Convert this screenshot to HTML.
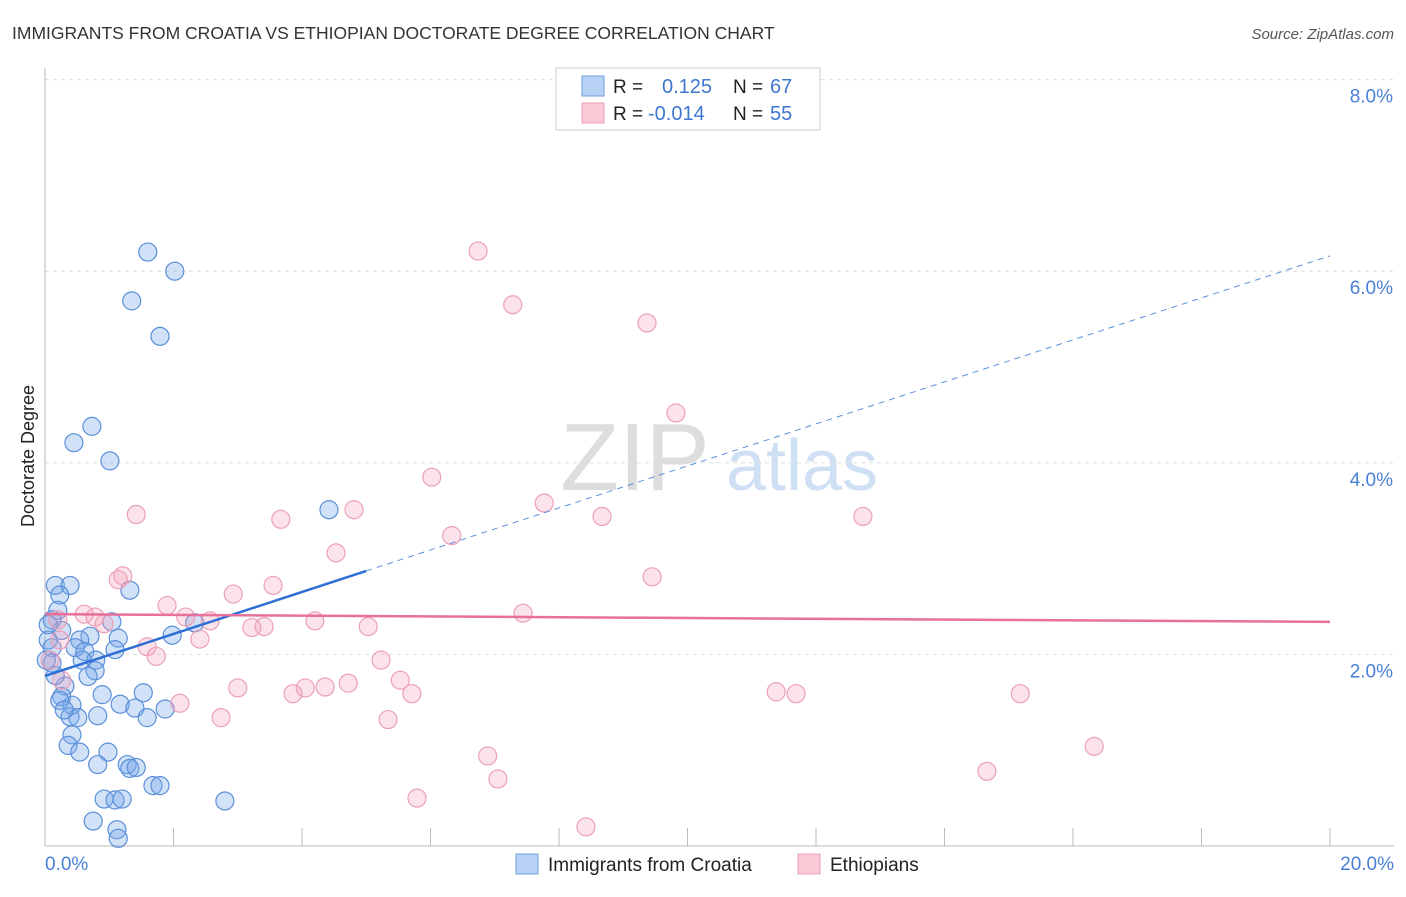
<!DOCTYPE html>
<html><head><meta charset="utf-8"><style>
body{margin:0;background:#fff;font-family:"Liberation Sans",sans-serif;}
svg text{font-family:"Liberation Sans",sans-serif;}
</style></head><body>
<svg id="c" width="1406" height="892">
<text x="12" y="39" font-size="17.5" fill="#333">IMMIGRANTS FROM CROATIA VS ETHIOPIAN DOCTORATE DEGREE CORRELATION CHART</text>
<text x="1394" y="39" font-size="15" font-style="italic" fill="#555" text-anchor="end">Source: ZipAtlas.com</text>
<text x="34" y="456" font-size="18" fill="#222" text-anchor="middle" transform="rotate(-90 34 456)">Doctorate Degree</text>
<g>
<text x="635" y="490" font-size="96" fill="#ddd" text-anchor="middle" font-family="Liberation Serif">ZIP</text>
<text x="802" y="490" font-size="72" fill="#cfe0f5" text-anchor="middle">atlas</text>
</g>
<g id="grid"></g><g id="axes"></g><g id="pts"></g><g id="trend"></g>
<g>
<rect x="556" y="68" width="264" height="62" fill="#fff" stroke="#ccc"/>
<rect x="582" y="76" width="22" height="20" fill="#b8d2f5" stroke="#6f9ee0"/>
<rect x="582" y="103" width="22" height="20" fill="#fac9d6" stroke="#eba0b6"/>
<text x="613" y="93" font-size="19" fill="#222">R =</text><text x="662" y="93" font-size="20" fill="#3f77d0">0.125</text>
<text x="733" y="93" font-size="19" fill="#222">N =</text><text x="770" y="93" font-size="20" fill="#3f77d0">67</text>
<text x="613" y="120" font-size="19" fill="#222">R =</text><text x="648" y="120" font-size="20" fill="#3f77d0">-0.014</text>
<text x="733" y="120" font-size="19" fill="#222">N =</text><text x="770" y="120" font-size="20" fill="#3f77d0">55</text>
</g>
<g>
<rect x="516" y="854" width="22" height="20" fill="#b8d2f5" stroke="#6f9ee0"/>
<text x="548" y="871" font-size="19" fill="#222">Immigrants from Croatia</text>
<rect x="798" y="854" width="22" height="20" fill="#fac9d6" stroke="#eba0b6"/>
<text x="830" y="871" font-size="19" fill="#222">Ethiopians</text>
</g>
</svg>
<script>
const yTicks=[2,4,6,8];
const yTickLabels=["2.0%","4.0%","6.0%","8.0%"];
const xTicks=[0,2,4,6,8,10,12,14,16,18,20];
const croatiaX=[1.60,2.02,1.35,1.79,0.73,0.45,1.01,4.42,0.16,0.39,1.32,0.23,0.20,1.04,0.11,0.26,0.70,0.05,0.11,0.54,1.14,1.98,2.33,0.47,0.62,0.58,0.79,1.09,0.78,0.67,0.31,0.26,0.89,1.53,0.42,1.17,1.40,1.87,0.39,0.82,0.51,1.59,0.42,0.36,0.54,0.98,0.82,1.28,1.32,1.42,1.68,1.79,0.92,1.09,1.20,2.80,0.75,1.12,1.14,0.11,0.02,0.05,0.23,0.30,0.16];
const croatiaY=[6.20,6.00,5.69,5.32,4.38,4.21,4.02,3.51,2.72,2.72,2.67,2.62,2.46,2.34,2.36,2.25,2.19,2.15,2.07,2.15,2.17,2.20,2.33,2.07,2.03,1.94,1.94,2.05,1.83,1.77,1.67,1.56,1.58,1.60,1.47,1.48,1.44,1.43,1.35,1.36,1.34,1.34,1.16,1.05,0.98,0.98,0.85,0.85,0.81,0.82,0.63,0.63,0.49,0.48,0.49,0.47,0.26,0.17,0.08,1.91,1.94,2.31,1.52,1.42,1.78];
const ethX=[6.74,7.28,9.37,9.82,6.02,7.77,8.67,12.73,1.42,3.67,4.81,6.33,4.53,1.21,1.14,9.45,3.55,2.93,1.90,0.61,0.78,2.19,2.57,4.20,7.44,0.92,3.22,3.41,5.03,2.41,1.59,1.73,5.23,5.53,4.72,3.00,3.86,4.05,4.36,5.71,11.38,11.69,15.18,2.10,2.74,5.34,16.33,6.89,14.66,7.05,5.79,8.42,0.08,0.23,0.26,0.20];
const ethY=[6.21,5.65,5.46,4.52,3.85,3.58,3.44,3.44,3.46,3.41,3.51,3.24,3.06,2.82,2.78,2.81,2.72,2.63,2.51,2.42,2.39,2.39,2.35,2.35,2.43,2.32,2.28,2.29,2.29,2.16,2.08,1.98,1.94,1.73,1.70,1.65,1.59,1.65,1.66,1.59,1.61,1.59,1.59,1.49,1.34,1.32,1.04,0.94,0.78,0.70,0.50,0.20,1.94,2.15,1.73,2.36];
const croatiaTrend=[1.775,6.16];   // y at x=0 and x=20
const croatiaSolidEnd=5.0;          // x% where solid segment ends
const ethTrend=[2.42,2.34];
const NS="http://www.w3.org/2000/svg";
const X=v=>45+v*64.25, Y=v=>846-v*95.8;
function mk(p,t,a){const e=document.createElementNS(NS,t);for(const k in a)e.setAttribute(k,a[k]);p.appendChild(e);return e;}
const grid=document.getElementById('grid'),axes=document.getElementById('axes'),pts=document.getElementById('pts'),tr=document.getElementById('trend');
yTicks.forEach((t,i)=>{
 const l=mk(grid,'line',{x1:45,x2:1394,y1:Y(t),y2:Y(t),stroke:'#ddd','stroke-dasharray':'4,4'});
 
 
 const tx=mk(grid,'text',{x:1393,y:Y(t)+23,'font-size':19,fill:'#4a7fd6','text-anchor':'end'});
 tx.textContent=yTickLabels[i];
 
 
});
let a=mk(axes,'line',{x1:45,x2:45,y1:68,y2:846,stroke:'#bbb'});


a=mk(axes,'line',{x1:45,x2:1394,y1:846,y2:846,stroke:'#bbb'});


xTicks.slice(1).forEach(t=>{const l=mk(axes,'line',{x1:X(t),x2:X(t),y1:828,y2:846,stroke:'#bbb'});
 
 });
let t0=mk(axes,'text',{x:45,y:870,'font-size':19,fill:'#4a7fd6'});t0.textContent='0.0%';


let t1=mk(axes,'text',{x:1394,y:870,'font-size':19,fill:'#4a7fd6','text-anchor':'end'});t1.textContent='20.0%';


croatiaX.forEach((x,i)=>{const c=mk(pts,'circle',{cx:X(x),cy:Y(croatiaY[i]),r:9,fill:'rgba(120,170,235,0.35)',stroke:'#5b8fd9','stroke-width':1.2});
 
 });
ethX.forEach((x,i)=>{const c=mk(pts,'circle',{cx:X(x),cy:Y(ethY[i]),r:9,fill:'rgba(245,160,185,0.3)',stroke:'#eba0b6','stroke-width':1.2});
 
 });
const cy=x=>croatiaTrend[0]+(croatiaTrend[1]-croatiaTrend[0])*x/20;
let l=mk(tr,'line',{x1:X(0),y1:Y(cy(0)),x2:X(croatiaSolidEnd),y2:Y(cy(croatiaSolidEnd)),stroke:'#2e6fd6','stroke-width':2.5});


l=mk(tr,'line',{x1:X(croatiaSolidEnd),y1:Y(cy(croatiaSolidEnd)),x2:X(20),y2:Y(cy(20)),stroke:'#5b8fd9','stroke-width':1,'stroke-dasharray':'6,5'});


l=mk(tr,'line',{x1:X(0),y1:Y(ethTrend[0]),x2:X(20),y2:Y(ethTrend[1]),stroke:'#e8709a','stroke-width':2.5});


</script>
</body></html>
